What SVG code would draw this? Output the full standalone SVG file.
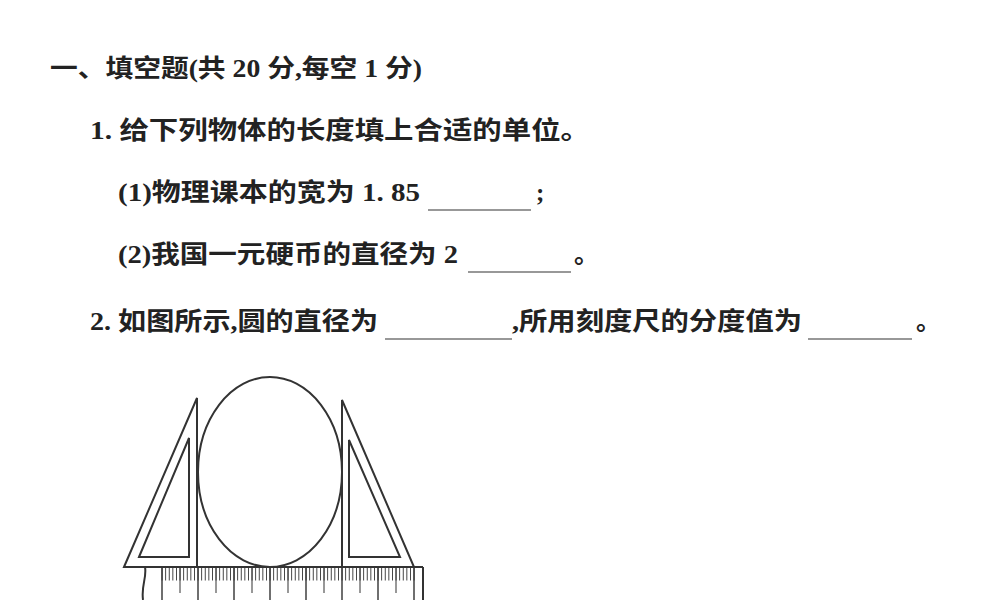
<svg xmlns="http://www.w3.org/2000/svg" width="1000" height="600" viewBox="0 0 1000 600">
<style>
text{font-family:"Liberation Serif","Noto Sans CJK SC",serif;font-size:25px;font-weight:bold;fill:#222}
.u{stroke:#333;stroke-width:1.2}
.s{fill:none;stroke:#333;stroke-width:2}
</style>
<rect width="1000" height="600" fill="#fff"/>
<text x="50" y="77" textLength="372" lengthAdjust="spacingAndGlyphs">一、填空题(共 20 分,每空 1 分)</text>
<text x="90" y="139" textLength="500" lengthAdjust="spacingAndGlyphs">1. 给下列物体的长度填上合适的单位。</text>
<text x="118" y="201" textLength="302" lengthAdjust="spacingAndGlyphs">(1)物理课本的宽为 1. 85</text>
<line class="u" x1="428" y1="210" x2="531" y2="210"/>
<text x="536" y="201">;</text>
<text x="118" y="263" textLength="340" lengthAdjust="spacingAndGlyphs">(2)我国一元硬币的直径为 2</text>
<line class="u" x1="468" y1="272" x2="571" y2="272"/>
<text x="574" y="263">。</text>
<text x="90" y="330" textLength="288" lengthAdjust="spacingAndGlyphs">2. 如图所示,圆的直径为</text>
<line class="u" x1="385" y1="339" x2="512" y2="339"/>
<text x="512" y="330" textLength="290" lengthAdjust="spacingAndGlyphs">,所用刻度尺的分度值为</text>
<line class="u" x1="808" y1="339" x2="912" y2="339"/>
<text x="916" y="330">。</text>
<g id="figure">
<ellipse class="s" cx="270" cy="472" rx="72" ry="95"/>
<polygon class="s" points="124,567 197,398 197,567"/>
<polygon class="s" points="139,557 189,438 189,557"/>
<polygon class="s" points="342,400 342,567 414,567"/>
<polygon class="s" points="349,440 349,557 400,557"/>
<line class="s" x1="124" y1="567" x2="423" y2="567"/>
<line class="s" x1="423" y1="567" x2="423" y2="600"/>
<path class="s" d="M145,567 C147,578 141,585 143,600"/>
<line x1="161.6" y1="574" x2="416" y2="574" stroke="#333" stroke-width="13" stroke-dasharray="0.9 2.7"/>
<line x1="179.5" y1="580" x2="416" y2="580" stroke="#333" stroke-width="26" stroke-dasharray="1 35"/>
<path class="s" d="M162,567V600M198,567V600M234,567V600M270,567V600M306,567V600M342,567V600M378,567V600M414,567V600" style="stroke-width:1.4"/>
</g>
</svg>
